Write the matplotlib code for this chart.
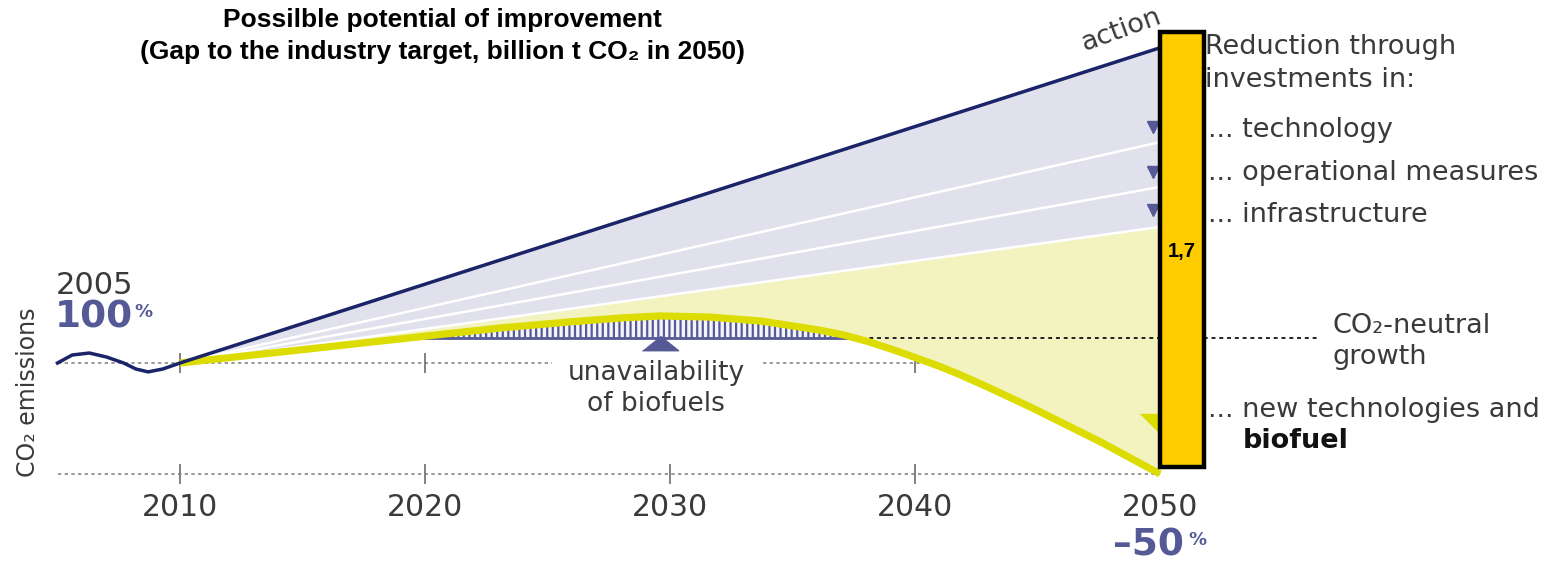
import numpy as np
import matplotlib.pyplot as plt
from matplotlib.patches import Rectangle

# Emission index (2005 = 100)
hist_years = [2005, 2005.6, 2006.3, 2007.0, 2007.7, 2008.2, 2008.7, 2009.3, 2010]
hist_vals = [100, 103.6, 104.5, 102.7, 100, 97.3, 96, 97.3, 100]

bau_years = [2010, 2050]
bau_vals = [100, 242]

# lines of the reduction wedges (technology, operations, infrastructure)
wedge_ends = [199.5, 179.3, 161.3]
wedge_marks = [206.3, 186.0, 168.9]

path_years = [2010, 2014.9, 2020.1, 2023.1, 2025.9, 2028.0, 2029.6, 2031.6,
              2033.7, 2035.3, 2036.2, 2037.1, 2038.1, 2039.1, 2040.0, 2041.0,
              2041.8, 2043.0, 2044.8, 2047.6, 2050]
path_vals = [100, 105.9, 112.2, 115.8, 118.5, 120.3, 121.2, 120.7,
             118.9, 116.2, 114.6, 112.6, 109.6, 106.0, 102.5, 98.5,
             94.9, 89.0, 79.7, 64.3, 50]

neutral_level = 111.3
base_level = 100
target_level = 50
tick_years = [2010, 2020, 2030, 2040, 2050]

gap_value = "1,7"
bar_bottom = 53.2
bar_top = 249.1

navy = '#1b2468'
purple = '#555a96'
lavender = '#e1e1ed'
lightyellow = '#f3f3bf'
yellow = '#dcdc00'
gold = '#ffcc00'
grey = '#3a3a3a'

plt.rcParams['hatch.linewidth'] = 1.6

W, H = 1562, 562
fig = plt.figure(figsize=(W / 100, H / 100), dpi=100)
ax = fig.add_axes([0, 0, 1, 1])
# 24.5 px per year, 2.22 px per index point
ax.set_xlim(2010 - 180 / 24.5, 2010 + (W - 180) / 24.5)
ax.set_ylim(100 - (H - 363) / 2.22, 100 + 363 / 2.22)
ax.axis('off')


def px(x, y):
    return x / W, 1 - y / H


# grey dotted guide lines with ticks
ax.hlines([base_level, base_level], [2005, 2033.8], [2025.2, 2050],
          colors='#888888', linestyles=(0, (2, 2)), lw=1.2, zorder=0)
ax.hlines(target_level, 2005, 2050, colors='#888888',
          linestyles=(0, (2, 2)), lw=1.2, zorder=0)
ax.plot([2010, 2020, 2040], [base_level] * 3, ls='none', marker='|',
        ms=14, mew=1.3, color='#777777', zorder=0)
ax.plot(tick_years[:4], [target_level] * 4, ls='none', marker='|',
        ms=14, mew=1.3, color='#777777', zorder=0)

# wedges
infra_line = np.interp(path_years, [2010, 2050], [100, wedge_ends[-1]])
ax.fill_between(bau_years, bau_vals, [100, wedge_ends[-1]], color=lavender,
                lw=0, zorder=1)
ax.fill_between(path_years, infra_line, path_vals, color=lightyellow,
                lw=0, zorder=1)
for end in wedge_ends:
    ax.plot([2010, 2050], [100, end], color='white', lw=1.8, zorder=2)

# unavailability of biofuels
pv = np.array(path_vals)
ax.fill_between(path_years, neutral_level, pv, where=pv > neutral_level,
                interpolate=True, facecolor='#f4f4fa', edgecolor=purple,
                hatch='|||', lw=0, zorder=2)
ax.plot([2020.0, 2037.2], [neutral_level] * 2, color=purple, lw=2, zorder=2)
ax.plot([2029.6], [109], ls='none', color=purple, ms=26,
        marker=[(-1, -0.4), (1, -0.4), (0, 0.4)], zorder=3)

# CO2-neutral growth line
ax.plot([2037.2, 2056.5], [neutral_level] * 2, color='#222222',
        ls=(0, (2, 2)), lw=1.4, zorder=2)

ax.plot(path_years, path_vals, color=yellow, lw=5.2, solid_capstyle='butt',
        solid_joinstyle='round', zorder=3)
ax.plot(hist_years + bau_years[1:], hist_vals + bau_vals[1:], color=navy,
        lw=2.5, solid_joinstyle='round', zorder=4)

ax.plot([2049.7] * 3, wedge_marks, ls='none', marker='v', ms=9,
        color=purple, zorder=3)
ax.plot([2049.6], [72.5], ls='none', color=yellow, ms=14,
        marker=[(-1, 1), (1, 1), (1, -1)], zorder=3)

# gap bar
ax.add_patch(Rectangle((2050, bar_bottom), 1.8, bar_top - bar_bottom,
                       facecolor=gold, edgecolor='black', lw=3.2, zorder=6))
ax.text(2050.9, 150, gap_value, ha='center', va='center', fontsize=14.5,
        fontweight='bold', family='Liberation Sans', zorder=7)

# texts
tf = dict(family='Liberation Sans', fontweight='bold', fontsize=19,
          ha='center', va='center', color='black')
fig.text(*px(442, 20), 'Possilble potential of improvement', **tf)
fig.text(*px(442, 52), '(Gap to the industry target, billion t CO\u2082 in 2050)', **tf)

af = dict(fontsize=19.5, color=grey, va='center')
fig.text(*px(1078, 30), 'action', rotation=20, **af)
fig.text(*px(1205, 47), 'Reduction through', zorder=1, **af)
fig.text(*px(1205, 80), 'investments in:', zorder=1, **af)
fig.text(*px(1208, 130), '... technology', **af)
fig.text(*px(1208, 173), '... operational measures', **af)
fig.text(*px(1208, 215), '... infrastructure', **af)
fig.text(*px(1333, 326), 'CO\u2082-neutral', **af)
fig.text(*px(1333, 357), 'growth', **af)
fig.text(*px(1208, 410), '... new technologies and', **af)
fig.text(*px(1243, 441), 'biofuel', fontweight='bold', fontsize=19.5,
         color='#111111', va='center')
fig.text(*px(656, 373), 'unavailability', ha='center', fontsize=19, color=grey,
         va='center')
fig.text(*px(656, 404), 'of biofuels', ha='center', fontsize=19, color=grey,
         va='center')
fig.text(*px(28, 392), 'CO\u2082 emissions', rotation=90, ha='center',
         fontsize=17, color=grey, va='center')
fig.text(*px(56, 285), '2005', fontsize=22, color=grey, va='center')

for yr in tick_years:
    ax.text(yr, 100 - (508 - 363) / 2.22, str(yr), ha='center', va='center',
            fontsize=21.5, color=grey)

pf = dict(fontweight='bold', color=purple, va='center')
fig.text(*px(55, 318), '100', fontsize=27, **pf)
fig.text(*px(134, 312), '%', fontsize=13, **pf)
fig.text(*px(1113, 546), '\u201350', fontsize=27, **pf)
fig.text(*px(1188, 540), '%', fontsize=13, **pf)

fig.savefig('out.png', dpi=100)
